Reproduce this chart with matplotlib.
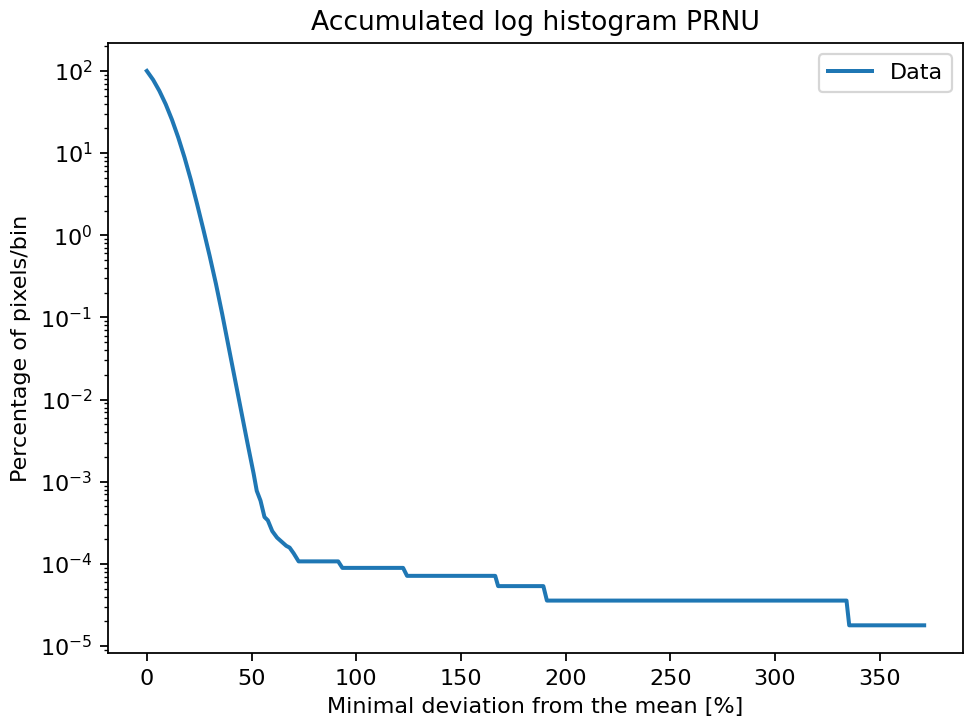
import matplotlib
matplotlib.use("Agg")
import matplotlib.pyplot as plt

# Data
deviation = [0, 3, 6, 9, 12, 15, 18, 21, 24, 27, 30, 33, 36, 39, 42, 45, 48,
             51, 52.5, 54.3, 56.2, 57.8, 59.9, 62.2, 66.6, 68.2, 70.1, 72.5,
             91.4, 93.4, 122.4, 124.3, 166.4, 167.8, 189.4, 191.1, 334.2,
             335.5, 371.3]
percentage = [100, 78.0, 57.1, 39.4, 25.5, 15.5, 8.85, 4.75, 2.40, 1.175,
              0.562, 0.257, 0.110, 0.0447, 0.0182, 0.00741, 0.00302, 0.00126,
              0.000776, 0.000589, 0.000372, 0.000339, 0.000251, 0.000209,
              0.000166, 0.000158, 0.000135, 1.074e-4, 1.074e-4, 8.95e-5,
              8.95e-5, 7.16e-5, 7.16e-5, 5.37e-5, 5.37e-5, 3.58e-5, 3.58e-5,
              1.79e-5, 1.79e-5]

fig = plt.figure(figsize=(964 / 160, 720 / 160), dpi=160)
ax = fig.add_axes([0.112, 0.093, 0.887, 0.847])
ax.plot(deviation, percentage, color="#1f77b4", lw=1.8, label="Data")
ax.set_yscale("log")
ax.set_title("Accumulated log histogram PRNU")
ax.set_xlabel("Minimal deviation from the mean [%]")
ax.set_ylabel("Percentage of pixels/bin")
ax.legend(loc="upper right")
fig.savefig("out.png", dpi=160)
